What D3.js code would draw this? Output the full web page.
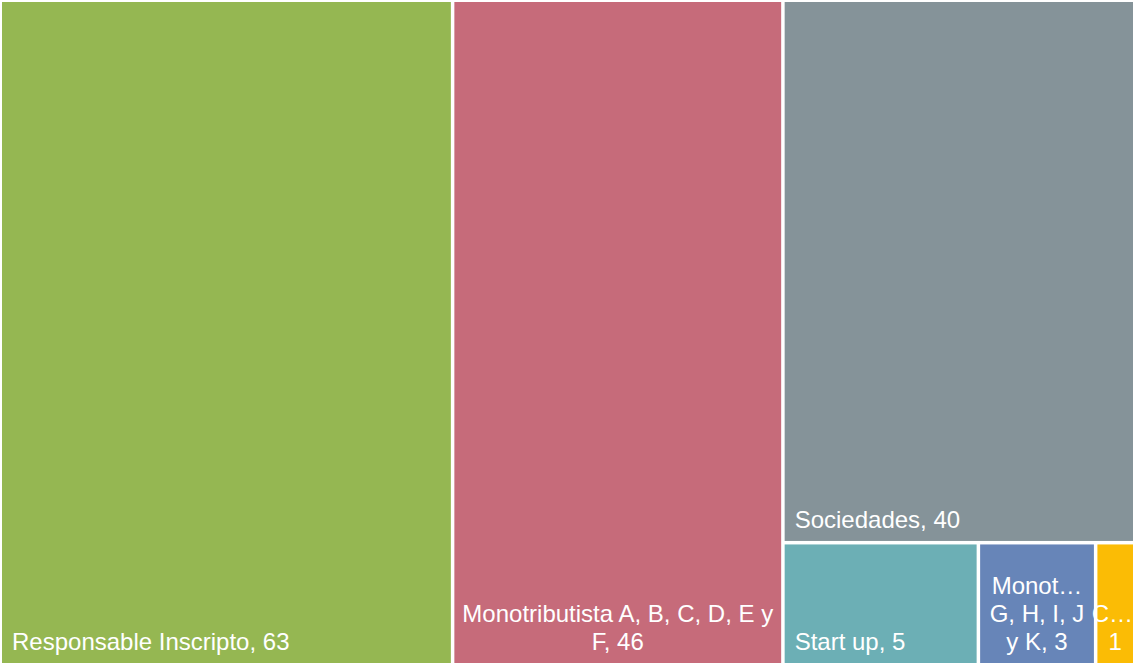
<!DOCTYPE html>
<html>
<head>
<meta charset="utf-8">
<script src="https://cdn.jsdelivr.net/npm/d3@7"></script>
<style>
  body { margin: 0; background: #fff; }
  svg { display: block; }
  text { font-family: "Liberation Sans", Arial, sans-serif; fill: #fff; }
</style>
</head>
<body>
<svg width="1134" height="664"></svg>
<script>
// data
var categories = ["Responsable Inscripto", "Monotributista A, B, C, D, E y F", "Sociedades",
                  "Start up", "Monotributista G, H, I, J y K", "C…"];
var values = [63, 46, 40, 5, 3, 1];
// label lines as they are shown in each cell
var labelLines = [
  ["Responsable Inscripto, 63"],
  ["Monotributista A, B, C, D, E y", "F, 46"],
  ["Sociedades, 40"],
  ["Start up, 5"],
  ["Monot…", "G, H, I, J", "y K, 3"],
  ["C…", "1"]
];
var colors = ["#95b752", "#c66b7a", "#859399", "#6cafb5", "#6785b8", "#fbbc05"];

var svg = d3.select("svg"),
    width = +svg.attr("width"),
    height = +svg.attr("height");

var data = categories.map(function(c, i) {
  return {name: c, value: values[i], lines: labelLines[i], color: colors[i]};
});

var root = d3.hierarchy({children: data})
    .sum(function(d) { return d.value; });

d3.treemap()
    .tile(d3.treemapBinary)
    .size([width, height])
    .paddingTop(2).paddingLeft(2)
    .paddingRight(1).paddingBottom(1)
    .paddingInner(3.5)(root);

var cell = svg.selectAll(".cell")
  .data(root.leaves())
  .enter().append("g")
    .attr("class", "cell");

cell.append("rect")
    .attr("x", function(d) { return d.x0; })
    .attr("y", function(d) { return d.y0; })
    .attr("width", function(d) { return d.x1 - d.x0; })
    .attr("height", function(d) { return d.y1 - d.y0; })
    .attr("fill", function(d) { return d.data.color; });

var lineH = 28;

cell.each(function(d) {
  var lines = d.data.lines,
      n = lines.length,
      multi = n > 1;
  var t = d3.select(this).append("text")
      .attr("font-size", "24px")
      .attr("text-anchor", multi ? "middle" : "start");
  lines.forEach(function(l, i) {
    var cx = multi ? (d.x0 + d.x1) / 2 : d.x0 + 10;
    var ts = t.append("tspan")
      .attr("x", cx)
      .attr("y", d.y1 - 13 - (n - 1 - i) * lineH)
      .text(l);
    // keep overflowing lines inside the picture
    var w = ts.node().getComputedTextLength();
    if (multi && cx + w / 2 > width - 1) ts.attr("x", width - 1 - w / 2);
  });
});
</script>
</body>
</html>
